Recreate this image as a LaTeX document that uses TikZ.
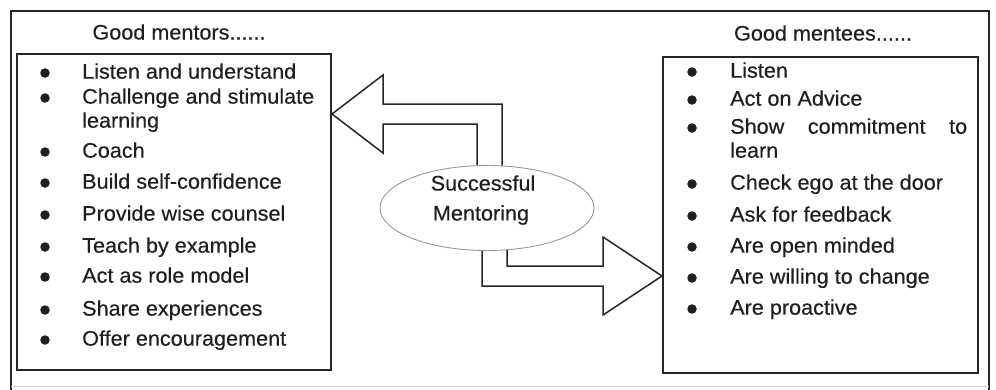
\documentclass[tikz,border=0pt]{standalone}
\usepackage{fontspec}
\setmainfont{Liberation Sans}[FakeStretch=1.03,FakeBold=0.35]
\usetikzlibrary{shapes.geometric}
\begin{document}
\begin{tikzpicture}[x=1pt,y=-1pt,
  frame/.style={draw=black!85, line width=1.8pt},
  box/.style={draw=black!85, line width=1.8pt, inner sep=0pt, minimum width=#1, minimum height=316pt},
  item/.style={anchor=mid west, inner sep=0pt, font=\fontsize{21}{25}\selectfont, text=black!88},
  dot/.style={circle, fill=black!88, inner sep=0pt, minimum size=9.5pt},
  title/.style={inner sep=0pt, font=\fontsize{21}{25}\selectfont, text=black!88},
  barrow/.style={draw=black!85, line width=1.5pt, fill=white, line join=miter}]
\useasboundingbox (0,0) rectangle (996,389);
\fill[white] (0,0) rectangle (996,389);
% outer frame
\draw[frame] (11,395) -- (11,11) -- (989,11) -- (989,395);
\draw[black!20, line width=1pt] (11,386) -- (989,386);
% boxes
\node[box=314pt] (mentors) at (174,212) {};
\node[box=315pt] (mentees) at (820.5,215) {};
% titles
\node[title] (tmentors) at (179,32) {Good mentors......};
\node[title] (tmentees) at (823,33) {Good mentees......};
% left items
\foreach \n/\y/\t/\b in {1/76/Listen and understand/1, 2/101/Challenge and stimulate/1, 3/125/learning/0, 4/155/Coach/1, 5/186/Build self-confidence/1, 6/218/Provide wise counsel/1, 7/250/Teach by example/1, 8/280/Act as role model/1, 9/313/Share experiences/1, 10/343/Offer encouragement/1}{
  \node[item] (m\n) at (82,\y) {\t};
  \ifnum\b=1 \node[dot] (md\n) at (45,\y-3) {};\fi
}
% right items
\foreach \n/\y/\t/\b in {1/75/Listen/1, 2/103/Act on Advice/1, 4/155/learn/0, 5/187/Check ego at the door/1, 6/219/Ask for feedback/1, 7/250/Are open minded/1, 8/281/Are willing to change/1, 9/312/Are proactive/1}{
  \node[item] (e\n) at (730,\y) {\t};
  \ifnum\b=1 \node[dot] (ed\n) at (692,\y-3) {};\fi
}
\node[item] (e3) at (730,131) {\makebox[237pt][s]{Show commitment to}};
\node[dot] (ed3) at (692,128) {};
% block arrows
\coordinate (tipL) at (332,114);
\coordinate (tipR) at (662,276);
\draw[barrow] (tipL) -- (383,75) -- (383,104) -- (502,104) -- (502,178) -- (477,178) -- (477,124) -- (383,124) -- (383,153) -- cycle;
\draw[barrow] (482,238) -- (482,286) -- (603,286) -- (603,315) -- (tipR) -- (603,237) -- (603,266) -- (507,266) -- (507,238) -- cycle;
% ellipse
\node[draw=black!40, line width=0.9pt, fill=white, ellipse, minimum width=214pt, minimum height=85pt, inner sep=0pt] (succ) at (487,208) {};
\node[title] (s1) at (483,183) {Successful};
\node[title] (s2) at (481,215) {Mentoring};
\end{tikzpicture}
\end{document}
